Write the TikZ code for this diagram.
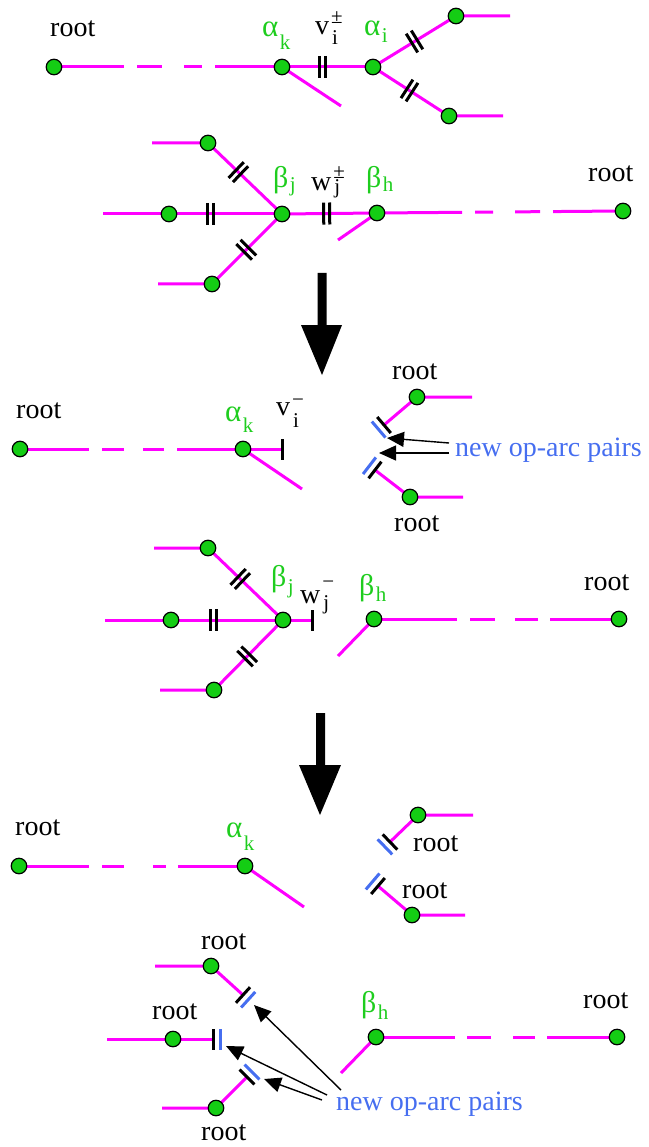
\documentclass[tikz,border=0pt]{standalone}
\usepackage{fontspec}
\setmainfont{Liberation Serif}
\usetikzlibrary{calc,backgrounds,arrows.meta}
\definecolor{mag}{RGB}{255,0,255}
\definecolor{vgreen}{RGB}{20,205,20}
\definecolor{lgreen}{RGB}{30,205,30}
\definecolor{oblue}{RGB}{70,110,240}
\newcommand\subx[2][10]{\kern1.5pt\raisebox{-#1pt}{\fontsize{21}{21}\selectfont #2}}
\newcommand\supsubx[4]{\kern2pt\makebox[0pt][l]{\raisebox{#3pt}{\fontsize{21}{21}\selectfont #1}}\kern1pt\raisebox{-#4pt}{\fontsize{21}{21}\selectfont #2}}
\newcommand\dbltick[3]{%
  \coordinate (dtm) at ($(#1)!#3!(#2)$);
  \draw[tk] ($(dtm)!3pt!(#2)!11pt!90:(#2)$) -- ($(dtm)!3pt!(#2)!11pt!-90:(#2)$);
  \draw[tk] ($(dtm)!-3pt!(#2)!11pt!90:(#2)$) -- ($(dtm)!-3pt!(#2)!11pt!-90:(#2)$);
}
\newcommand\stoptick[3]{\draw[#3] ($(#2)!10.5pt!90:(#1)$) -- ($(#2)!10.5pt!-90:(#1)$);}
\newcommand\pairtick[2]{%
  \stoptick{#1}{#2}{tk}
  \coordinate (ptb) at ($(#2)!-7pt!(#1)$);
  \stoptick{#1}{ptb}{btk}
}
\tikzset{
  arc/.style={draw=mag, line width=3pt},
  vtx/.style={circle, fill=vgreen, draw=black, line width=1.2pt, minimum size=15.5pt, inner sep=0pt},
  tk/.style={draw=black, line width=3pt},
  btk/.style={draw=oblue, line width=3pt},
  txt/.style={anchor=base west, inner sep=0pt, font=\fontsize{28}{32}\selectfont},
  gtxt/.style={txt, text=lgreen},
  btxt/.style={txt, text=oblue},
  parr/.style={draw=black, line width=1.4pt, -{Triangle[length=17pt,width=15pt]}},
}
\begin{document}
\begin{tikzpicture}[x=1pt,y=-1pt]
\useasboundingbox (0,0) rectangle (648,1147);
% ---------- section 1 ----------
\node[vtx] (rA) at (54,67) {};
\node[vtx] (ak1) at (282,67) {};
\node[vtx] (ai1) at (373,67) {};
\node[vtx] (aU) at (456,16) {};
\node[vtx] (aL) at (449,116) {};
\coordinate (ak1b) at (341,106);
\coordinate (aUe) at (510,16);
\coordinate (aLe) at (503,116);
\node[txt] (lrA) at (50,37) {root};
\node[gtxt] (lak1) at (262,37) {\fontsize{31}{32}\selectfont α\subx[13]{k}};
\node[txt] (lv1) at (315,35) {v\supsubx{±}{i}{11}{10}};
\node[gtxt] (lai1) at (364,36) {\fontsize{31}{32}\selectfont α\subx[7]{i}};
% ---------- section 2 ----------
\node[vtx] (bUL) at (208,143) {};
\node[vtx] (bL) at (169,214) {};
\node[vtx] (bLL) at (212,284) {};
\node[vtx] (bj) at (282,214) {};
\node[vtx] (bh) at (377,213) {};
\node[vtx] (rB) at (623,211) {};
\coordinate (bULe) at (152,143);
\coordinate (bLe) at (103,214);
\coordinate (bLLe) at (158,284);
\coordinate (bhb) at (338,240);
\node[gtxt] (lbj) at (273,188) {\fontsize{30}{32}\selectfont β\subx[4]{j}};
\node[txt] (lw1) at (311,191) {w\supsubx{±}{j}{12}{3}};
\node[gtxt] (lbh) at (366,188) {\fontsize{30}{32}\selectfont β\subx[4]{h}};
\node[txt] (lrB) at (588,182) {root};
% ---------- big arrow 1 ----------
\fill[black] (317.5,273) -- (326.5,273) -- (326.5,325) -- (342,325) -- (322,375) -- (301,325) -- (317.5,325) -- cycle;
% ---------- section 3 ----------
\node[vtx] (rC) at (20,449) {};
\node[vtx] (ak3) at (243,449) {};
\coordinate (ak3e) at (282,449);
\coordinate (ak3b) at (302,489);
\node[vtx] (cU) at (417,397) {};
\coordinate (cUe) at (472,397);
\coordinate (cUt) at (384,425);
\node[vtx] (cL) at (410,497) {};
\coordinate (cLe) at (463,497);
\coordinate (cLt) at (375,470);
\node[txt] (lrC) at (16,418) {root};
\node[gtxt] (lak3) at (225,421) {\fontsize{31}{32}\selectfont α\subx[11]{k}};
\node[txt] (lv2) at (276,415) {v\supsubx{−}{i}{9}{12}};
\node[txt] (lrCU) at (392,379) {root};
\node[txt] (lrCL) at (394,531) {root};
\node[btxt] (nop1) at (455,456) {new op-arc pairs};
\coordinate (a1s) at (449,443);
\coordinate (a1t) at (387,438);
\coordinate (a2s) at (449,453);
\coordinate (a2t) at (379,453);
% ---------- section 4 ----------
\node[vtx] (dUL) at (208,548) {};
\node[vtx] (dL) at (171,620) {};
\node[vtx] (dLL) at (214,690) {};
\node[vtx] (dj) at (283,620) {};
\coordinate (dje) at (312,620);
\node[vtx] (dh) at (374,619) {};
\coordinate (dhb) at (338,656);
\node[vtx] (rD) at (619,619) {};
\coordinate (dULe) at (154,548);
\coordinate (dLe) at (105,620);
\coordinate (dLLe) at (160,690);
\node[gtxt] (ldj) at (271,586) {\fontsize{30}{32}\selectfont β\subx[7]{j}};
\node[txt] (lw2) at (300,603) {w\supsubx{−}{j}{15}{6}};
\node[gtxt] (ldh) at (359,595) {\fontsize{30}{32}\selectfont β\subx[6]{h}};
\node[txt] (lrD) at (584,590) {root};
% ---------- big arrow 2 ----------
\fill[black] (316,713) -- (325,713) -- (325,765) -- (341,765) -- (320,815) -- (299,765) -- (316,765) -- cycle;
% ---------- section 5 ----------
\node[vtx] (rE) at (19,866) {};
\node[vtx] (ak5) at (245,866) {};
\coordinate (ak5b) at (304,907);
\node[vtx] (eU) at (418,815) {};
\coordinate (eUe) at (473,815);
\coordinate (eUt) at (390,842);
\node[vtx] (eL) at (412,915) {};
\coordinate (eLe) at (465,915);
\coordinate (eLt) at (378,886);
\node[txt] (lrE) at (15,835) {root};
\node[gtxt] (lak5) at (226,837) {\fontsize{31}{32}\selectfont α\subx[13]{k}};
\node[txt] (lrEU) at (413,851) {root};
\node[txt] (lrEL) at (402,898) {root};
% ---------- section 6 ----------
\node[vtx] (fU) at (211,966) {};
\coordinate (fUe) at (155,966);
\coordinate (fUt) at (243,995);
\node[vtx] (fL) at (173,1039) {};
\coordinate (fLe) at (107,1039);
\coordinate (fLt) at (213,1039);
\node[vtx] (fLL) at (216,1108) {};
\coordinate (fLLe) at (162,1108);
\coordinate (fLLt) at (247,1077);
\node[vtx] (fh) at (376,1037) {};
\coordinate (fhb) at (341,1073);
\node[vtx] (rF) at (617,1037) {};
\node[txt] (lrFU) at (201,949) {root};
\node[txt] (lrFM) at (152,1019) {root};
\node[txt] (lrFL) at (201,1140) {root};
\node[txt] (lrF) at (583,1008) {root};
\node[gtxt] (lfh) at (361,1012) {\fontsize{30}{32}\selectfont β\subx[7]{h}};
\node[btxt] (nop2) at (336,1110) {new op-arc pairs};
\coordinate (b1s) at (341,1090);
\coordinate (b1t) at (254,1005);
\coordinate (b2s) at (327,1095);
\coordinate (b2t) at (226,1046);
\coordinate (b3s) at (322,1100);
\coordinate (b3t) at (264,1079);
% ---------- connectors ----------
\begin{pgfonlayer}{background}
\draw[arc, dash pattern=on 70pt off 13pt on 25pt off 22pt on 18pt off 13pt on 400pt] (rA.center) -- (ak1.center);
\draw[arc] (ak1.center) -- (ai1.center);
\draw[arc] (ak1.center) -- (ak1b);
\draw[arc] (ai1.center) -- (aU.center) -- (aUe);
\draw[arc] (ai1.center) -- (aL.center) -- (aLe);
\draw[arc] (bULe) -- (bUL.center) -- (bj.center);
\draw[arc] (bLe) -- (bL.center) -- (bj.center);
\draw[arc] (bLLe) -- (bLL.center) -- (bj.center);
\draw[arc] (bj.center) -- (bh.center);
\draw[arc] (bh.center) -- (bhb);
\draw[arc, dash pattern=on 70pt off 13pt on 25pt off 22pt on 18pt off 13pt on 400pt] (rB.center) -- (bh.center);
\draw[arc, dash pattern=on 69pt off 13pt on 22pt off 19pt on 21pt off 13pt on 400pt] (rC.center) -- (ak3.center);
\draw[arc] (ak3.center) -- (ak3e);
\draw[arc] (ak3.center) -- (ak3b);
\draw[arc] (cUe) -- (cU.center) -- (cUt);
\draw[arc] (cLe) -- (cL.center) -- (cLt);
\draw[arc] (dULe) -- (dUL.center) -- (dj.center);
\draw[arc] (dLe) -- (dL.center) -- (dj.center);
\draw[arc] (dLLe) -- (dLL.center) -- (dj.center);
\draw[arc] (dj.center) -- (dje);
\draw[arc] (dh.center) -- (dhb);
\draw[arc, dash pattern=on 69pt off 12pt on 23pt off 20pt on 25pt off 13pt on 400pt] (rD.center) -- (dh.center);
\draw[arc, dash pattern=on 70pt off 13pt on 22pt off 29pt on 13pt off 12pt on 400pt] (rE.center) -- (ak5.center);
\draw[arc] (ak5.center) -- (ak5b);
\draw[arc] (eUe) -- (eU.center) -- (eUt);
\draw[arc] (eLe) -- (eL.center) -- (eLt);
\draw[arc] (fUe) -- (fU.center) -- (fUt);
\draw[arc] (fLe) -- (fL.center) -- (fLt);
\draw[arc] (fLLe) -- (fLL.center) -- (fLLt);
\draw[arc] (fh.center) -- (fhb);
\draw[arc, dash pattern=on 70pt off 12pt on 22pt off 22pt on 24pt off 12pt on 400pt] (rF.center) -- (fh.center);
\end{pgfonlayer}
% ---------- ticks ----------
\dbltick{ak1}{ai1}{0.45}
\dbltick{ai1}{aU}{0.5}
\dbltick{ai1}{aL}{0.48}
\dbltick{bUL}{bj}{0.41}
\dbltick{bL}{bj}{0.37}
\dbltick{bLL}{bj}{0.49}
\dbltick{bj}{bh}{0.47}
\stoptick{ak3}{ak3e}{tk}
\pairtick{cU}{cUt}
\pairtick{cL}{cLt}
\dbltick{dUL}{dj}{0.43}
\dbltick{dL}{dj}{0.38}
\dbltick{dLL}{dj}{0.48}
\stoptick{dj}{dje}{tk}
\pairtick{eU}{eUt}
\pairtick{eL}{eLt}
\pairtick{fU}{fUt}
\pairtick{fL}{fLt}
\pairtick{fLL}{fLLt}
% ---------- pointer arrows ----------
\draw[parr] (a1s) -- (a1t);
\draw[parr] (a2s) -- (a2t);
\draw[parr] (b1s) -- (b1t);
\draw[parr] (b2s) -- (b2t);
\draw[parr] (b3s) -- (b3t);
\end{tikzpicture}
\end{document}
